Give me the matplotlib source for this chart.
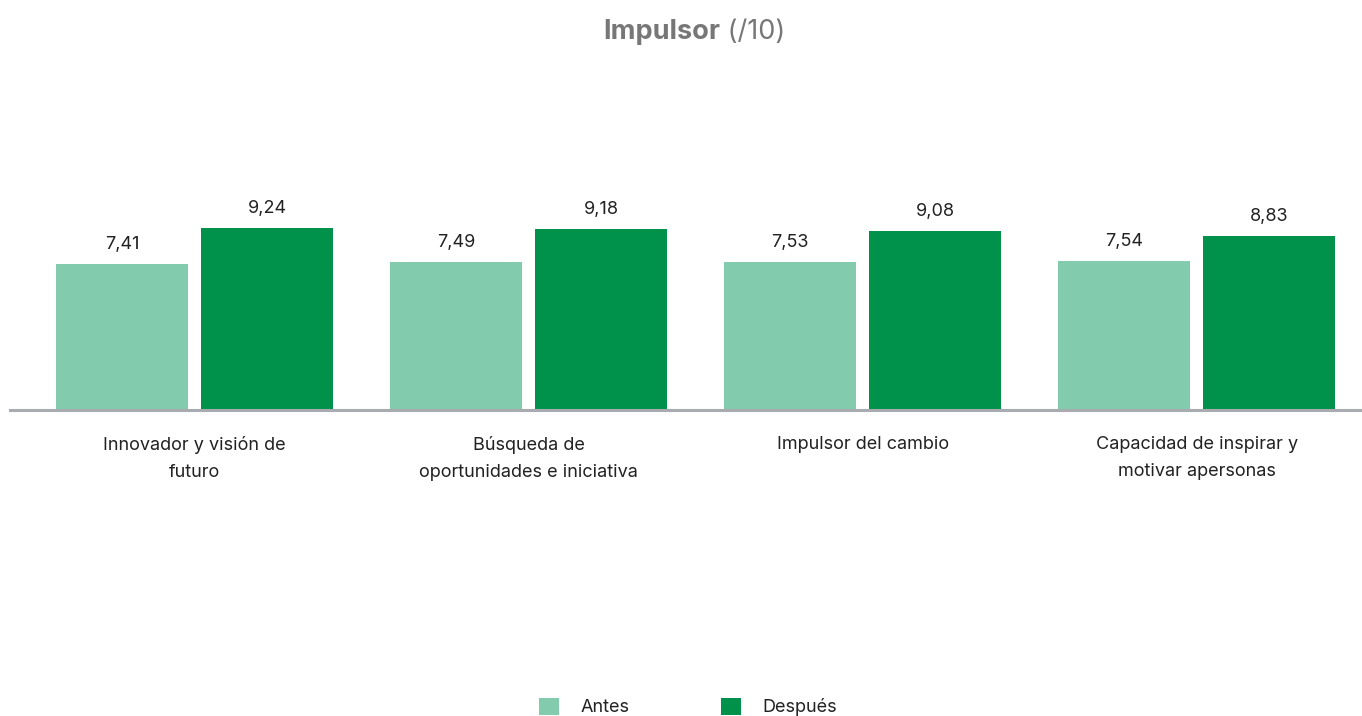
import matplotlib.pyplot as plt
import numpy as np

categories = ["Innovador y visión de\nfuturo",
              "Búsqueda de\noportunidades e iniciativa",
              "Impulsor del cambio",
              "Capacidad de inspirar y\nmotivar apersonas"]
antes = [7.41, 7.49, 7.53, 7.54]
despues = [9.24, 9.18, 9.08, 8.83]
series_names = ["Antes", "Después"]

light = "#82CBAD"
dark = "#00924A"

plt.rcParams['font.family'] = ['Inter', 'DejaVu Sans']

fig = plt.figure(figsize=(13.62, 7.16), dpi=100)
ax = fig.add_axes([10 / 1362, 1 - 410 / 716, 1352 / 1362, 197 / 716])

x = np.arange(len(categories))
w = 0.395
off = 0.217
b1 = ax.bar(x - off, antes, w, color=light, label=series_names[0], zorder=2)
b2 = ax.bar(x + off, despues, w, color=dark, label=series_names[1], zorder=2)

for bars, vals in ((b1, antes), (b2, despues)):
    for r, v in zip(bars, vals):
        ax.annotate(f"{v:.2f}".replace(".", ","),
                    (r.get_x() + r.get_width() / 2, r.get_height()),
                    xytext=(0, 8), textcoords="offset points",
                    ha="center", va="bottom", fontsize=13, color="#222222")

ax.set_xlim(-0.553, 3.495)
ax.set_ylim(0, 10)
for s in ("top", "right", "left"):
    ax.spines[s].set_visible(False)
ax.spines["bottom"].set_color("#A8ABB0")
ax.spines["bottom"].set_linewidth(2.2)
ax.spines["bottom"].set_zorder(3)
ax.set_yticks([])
ax.set_xticks(x)
ax.set_xticklabels(categories, fontsize=13, color="#222222", linespacing=1.75)
ax.tick_params(axis="x", length=0, pad=19)

fig.text(720 / 1362, 1 - 32 / 716, "Impulsor", ha="right", va="center",
         fontsize=19.5, fontweight="bold", color="#777777")
fig.text(720 / 1362, 1 - 32 / 716, " (/10)", ha="left", va="center",
         fontsize=19.5, color="#777777")

fig.legend(handles=[b1, b2], loc="center", ncol=2, frameon=False,
           bbox_to_anchor=(688 / 1362, 1 - 707 / 716), fontsize=13,
           handlelength=1.1, handleheight=1.1, handletextpad=1.16,
           columnspacing=5.1, labelcolor="#222222")

fig.savefig("out.png", dpi=100)
